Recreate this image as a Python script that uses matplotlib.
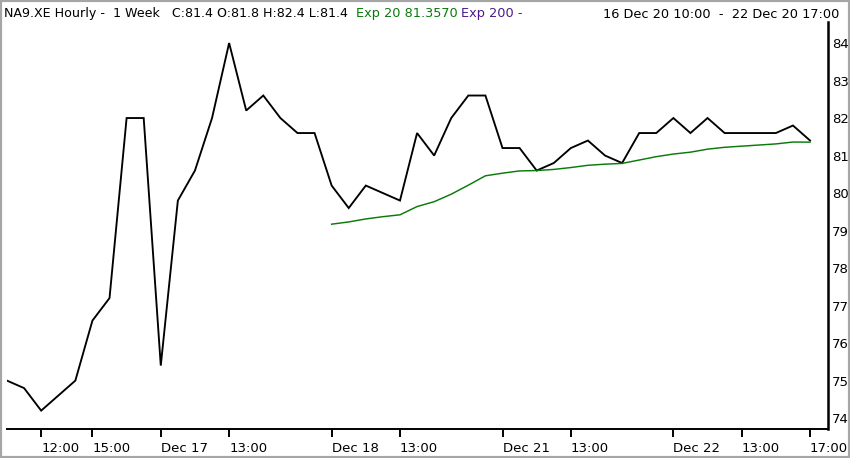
"""
NA9.XE hourly chart, one week, with 20-period exponential average.
"""
import matplotlib
matplotlib.use("Agg")
import matplotlib.pyplot as plt
from matplotlib.patches import Rectangle

# trading days and hourly bars shown (first day starts at 10:00)
days = ["Dec 16", "Dec 17", "Dec 18", "Dec 21", "Dec 22"]
day_hours = [
    ["10:00", "11:00", "12:00", "13:00", "14:00", "15:00", "16:00", "17:00", "18:00"],
    ["09:00", "10:00", "11:00", "12:00", "13:00", "14:00", "15:00", "16:00", "17:00", "18:00"],
    ["09:00", "10:00", "11:00", "12:00", "13:00", "14:00", "15:00", "16:00", "17:00", "18:00"],
    ["09:00", "10:00", "11:00", "12:00", "13:00", "14:00", "15:00", "16:00", "17:00", "18:00"],
    ["09:00", "10:00", "11:00", "12:00", "13:00", "14:00", "15:00", "16:00", "17:00"],
]

close = [
    75.0, 74.8, 74.2, 74.6, 75.0, 76.6, 77.2, 82.0, 82.0,
    75.4, 79.8, 80.6, 82.0, 84.0, 82.2, 82.6, 82.0, 81.6, 81.6,
    80.2, 79.6, 80.2, 80.0, 79.8, 81.6, 81.0, 82.0, 82.6, 82.6,
    81.2, 81.2, 80.6, 80.8, 81.2, 81.4, 81.0, 80.8, 81.6, 81.6,
    82.0, 81.6, 82.0, 81.6, 81.6, 81.6, 81.6, 81.8, 81.4,
]

# Exp 20, drawn from the first bar of Dec 18
ema_start = 19
ema20 = [
    79.17, 79.23, 79.31, 79.37, 79.42, 79.64, 79.77, 79.97, 80.21, 80.46,
    80.53, 80.59, 80.60, 80.63, 80.68, 80.74, 80.77, 80.79, 80.88, 80.97,
    81.04, 81.09, 81.17, 81.22, 81.25, 81.28, 81.31, 81.36, 81.357,
]

tick_labels = {
    ("Dec 16", "12:00"): "12:00",
    ("Dec 16", "15:00"): "15:00",
    ("Dec 17", "09:00"): "Dec 17",
    ("Dec 17", "13:00"): "13:00",
    ("Dec 18", "09:00"): "Dec 18",
    ("Dec 18", "13:00"): "13:00",
    ("Dec 21", "09:00"): "Dec 21",
    ("Dec 21", "13:00"): "13:00",
    ("Dec 22", "09:00"): "Dec 22",
    ("Dec 22", "13:00"): "13:00",
    ("Dec 22", "17:00"): "17:00",
}
y_ticks = [74, 75, 76, 77, 78, 79, 80, 81, 82, 83, 84]

plt.rcParams["font.family"] = ["DejaVu Sans"]

W, H = 850, 458
fig = plt.figure(figsize=(W / 100, H / 100), dpi=100)
fig.patch.set_facecolor("white")

# plot area in pixels
left, right, top, bottom = 7, 828, 22, 429
ax = fig.add_axes([left / W, 1 - bottom / H, (right - left) / W, (bottom - top) / H])

bars = [(d, h) for d, hours in zip(days, day_hours) for h in hours]
x = list(range(len(bars)))

ax.plot(x, close, color="black", linewidth=1.35, solid_joinstyle="miter")
ax.plot(x[ema_start:ema_start + len(ema20)], ema20, color="#0a7a0a", linewidth=1.05)

ax.set_xlim(0, 48.05)
ax.set_ylim(73.71, 84.56)

for s in ("left", "top"):
    ax.spines[s].set_visible(False)
ax.spines["right"].set_linewidth(1.8)
ax.spines["bottom"].set_linewidth(1.4)

ax.yaxis.tick_right()
ax.set_yticks(y_ticks)
ax.set_yticklabels([str(v) for v in y_ticks])
ax.tick_params(axis="y", length=0, pad=3, labelsize=9.5)

pos = [i for i, b in enumerate(bars) if b in tick_labels]
ax.set_xticks(pos)
ax.set_xticklabels([tick_labels[bars[i]] for i in pos], ha="left")
ax.tick_params(axis="x", direction="out", length=6, width=1.4, pad=3, labelsize=9.5)

# header texts
def px(xp, yp):
    return xp / W, 1 - yp / H

fs = 9.3
fig.text(*px(4, 14), "NA9.XE Hourly -  1 Week   C:81.4 O:81.8 H:82.4 L:81.4",
         fontsize=9.05, color="black", va="center")
fig.text(*px(356, 14), "Exp 20 81.3570", fontsize=fs, color="#0a7a0a", va="center")
fig.text(*px(461, 14), "Exp 200 -", fontsize=fs, color="#4b1a8a", va="center")
fig.text(*px(839, 14), "16 Dec 20 10:00  -  22 Dec 20 17:00",
         fontsize=fs, color="black", va="center", ha="right")

# grey frame round the picture
fig.patches.append(Rectangle((0, 0), 1, 1, transform=fig.transFigure, fill=False,
                             edgecolor="#a6a6a6", linewidth=3))

fig.savefig("out.png", dpi=100)
